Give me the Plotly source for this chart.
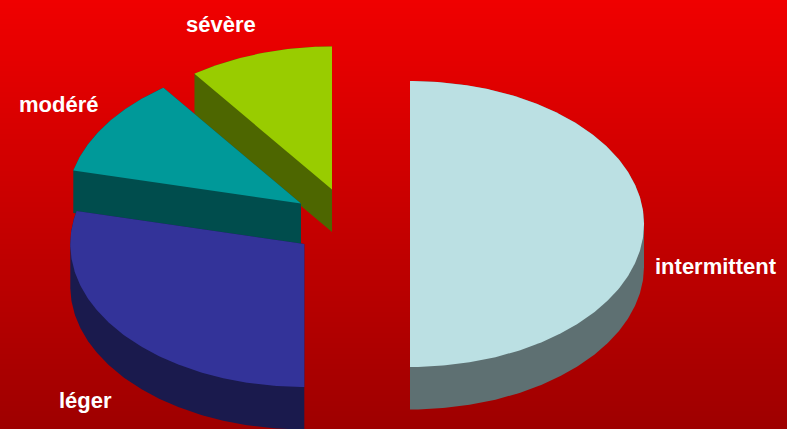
import math
import numpy as np
import plotly.graph_objects as go

# Slice data, in drawing order of the clockwise pie (starting at 12 o'clock)
categories = ["intermittent", "léger", "modéré", "sévère"]
shares = [50, 28.7, 11.3, 10]
top_colors = ["#BBE0E3", "#333399", "#009999", "#99CC00"]
side_colors = ["#5E7072", "#1A1A4D", "#004D4D", "#4D6600"]

# Exploded slice tips and pie projection, in pixels
WIDTH, HEIGHT = 787, 429
tips = {"intermittent": (410, 224), "léger": (304.3, 244),
        "modéré": (301, 203.5), "sévère": (332, 189.5)}
RX, RY, DEPTH = 234, 143, 42.5
label_pos = {"intermittent": (716, 266), "léger": (85, 400),
             "modéré": (58, 104), "sévère": (221, 24)}


def wedge(tip, start_deg, end_deg):
    """Outline of a projected pie slice, angles clockwise from the top."""
    steps = max(2, int(abs(end_deg - start_deg) * 1.5))
    angles = np.radians(np.linspace(start_deg, end_deg, steps))
    pts = [tip] + [(tip[0] + RX * math.sin(a), tip[1] - RY * math.cos(a)) for a in angles]
    return pts


def hull(points):
    """Convex hull, used for the extruded body of a slice."""
    pts = sorted(set(points))

    def half(seq):
        out = []
        for p in seq:
            while len(out) > 1 and (
                (out[-1][0] - out[-2][0]) * (p[1] - out[-2][1])
                - (out[-1][1] - out[-2][1]) * (p[0] - out[-2][0])
            ) <= 0:
                out.pop()
            out.append(p)
        return out[:-1]

    return half(pts) + half(pts[::-1])


fig = go.Figure()

# Vertical red gradient behind the pie
rows = np.arange(0, HEIGHT + 1)
fig.add_trace(go.Heatmap(
    x=[0, WIDTH], y=rows, z=np.column_stack([rows, rows]),
    colorscale=[[0, "#F00000"], [1, "#9E0000"]],
    showscale=False, hoverinfo="skip",
))

# Work out slice angles from the shares
total = sum(shares)
spans = {}
start = 0.0
for name, share in zip(categories, shares):
    end = start + 360 * share / total
    spans[name] = (start, end)
    start = end

# Back slices first so that the front ones cover them
for name in ["sévère", "modéré", "léger", "intermittent"]:
    i = categories.index(name)
    top = wedge(tips[name], *spans[name])
    body = hull(top + [(x, y + DEPTH) for x, y in top])
    for outline, color in ((body, side_colors[i]), (top, top_colors[i])):
        xs, ys = zip(*(outline + [outline[0]]))
        fig.add_trace(go.Scatter(
            x=xs, y=ys, mode="lines", fill="toself", fillcolor=color,
            line=dict(width=0, color=color), hoverinfo="skip", showlegend=False,
        ))

for name in categories:
    x, y = label_pos[name]
    fig.add_annotation(
        x=x, y=y, text=name, showarrow=False, xanchor="center", yanchor="middle",
        font=dict(family="Liberation Sans", size=22, color="white", weight="bold"),
    )

fig.update_xaxes(range=[0, WIDTH], visible=False, fixedrange=True)
fig.update_yaxes(range=[HEIGHT, 0], visible=False, fixedrange=True)
fig.update_layout(
    width=WIDTH, height=HEIGHT, margin=dict(l=0, r=0, t=0, b=0),
    paper_bgcolor="#C00000", plot_bgcolor="#C00000", showlegend=False,
)

fig.write_html("out.html", config={"displayModeBar": False})
